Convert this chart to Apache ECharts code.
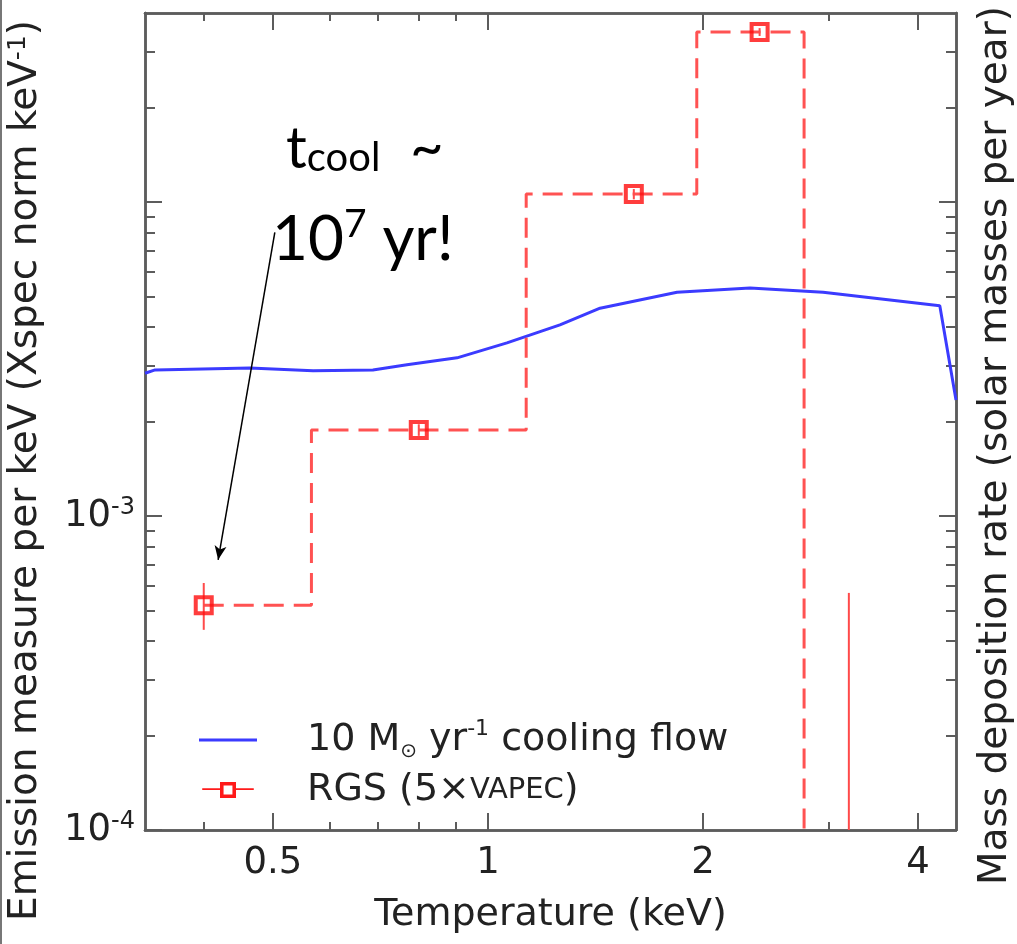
<!DOCTYPE html>
<html>
<head>
<meta charset="utf-8">
<script src="https://cdn.jsdelivr.net/npm/echarts@6/dist/echarts.min.js"></script>
<style>
  html, body {margin: 0; padding: 0; background: #fff; overflow: hidden;}
  #main {width: 1017px; height: 944px;}
</style>
</head>
<body>
<div id="main"></div>
<script>
// 10 Msun/yr cooling flow model: temperature (keV) and emission measure
let coolT = [0.331, 0.342, 0.464, 0.569, 0.690, 0.770, 0.905, 1.063, 1.261, 1.435, 1.839, 2.327, 2.945, 4.29, 4.52];
let coolEM = [2.85e-3, 2.92e-3, 2.96e-3, 2.90e-3, 2.92e-3, 3.03e-3, 3.19e-3, 3.56e-3, 4.06e-3, 4.59e-3, 5.16e-3, 5.32e-3, 5.16e-3, 4.67e-3, 2.34e-3];

// RGS (5 x VAPEC): bin centres, values, error bars and bin edges (last point is off the bottom)
let rgsT = [0.4, 0.8, 1.6, 2.4, 3.2];
let rgsEM = [5.2e-4, 1.88e-3, 1.06e-2, 3.48e-2, 5e-5];
let rgsLo = [4.34e-4, 1.80e-3, 1.02e-2, 3.38e-2, 2e-5];
let rgsHi = [6.12e-4, 1.96e-3, 1.10e-2, 3.58e-2, 5.69e-4];
let rgsEdges = [0.566, 1.131, 1.96, 2.77];

// ticks
let xMajor = [0.5, 1, 2, 4];
let xMinor = [0.4, 0.6, 0.7, 0.8, 0.9, 3];
let yLabels = [1e-4, 1e-3];
let yMajor = [1e-4, 1e-3, 1e-2];
let yMinor = [2e-4, 3e-4, 4e-4, 5e-4, 6e-4, 7e-4, 8e-4, 9e-4, 2e-3, 3e-3, 4e-3, 5e-3, 6e-3, 7e-3, 8e-3, 9e-3, 2e-2, 3e-2];

// annotation arrow, tail -> head
let arrowFrom = [0.503, 8.0e-3];
let arrowTo = [0.419, 7.25e-4];

let step = [[rgsT[0], rgsEM[0]]];
rgsEdges.forEach((e, i) => {
    step.push([e, rgsEM[i]]);
    step.push([e, rgsEM[i + 1]]);
});
step.push([rgsT[rgsT.length - 1], rgsEM[rgsEM.length - 1]]);

let gray = '#5c5c5c';
let txt = '#222';
let font = 'DejaVu Sans';
let handFont = '"Comic Sans MS", Lato, sans-serif';

function xAx(pos, ticks, len, withLabels) {
    return {
        type: 'log', position: pos, min: 0.331, max: 4.52,
        axisLine: {show: true, onZero: false, lineStyle: {color: gray, width: 2.5}},
        axisTick: {show: true, inside: true, length: len, customValues: ticks, lineStyle: {color: gray, width: 2}},
        axisLabel: withLabels ? {
            customValues: ticks, margin: 15, color: txt, fontFamily: font, fontSize: 37,
            formatter: v => String(v)
        } : {show: false},
        splitLine: {show: false}
    };
}

function yAx(pos, ticks, len, withLabels) {
    return {
        type: 'log', position: pos, min: 1e-4, max: 0.04,
        axisLine: {show: true, onZero: false, lineStyle: {color: gray, width: 2.5}},
        axisTick: {show: true, inside: true, length: len, customValues: ticks, lineStyle: {color: gray, width: 2}},
        axisLabel: withLabels ? {
            customValues: yLabels, margin: 10, color: txt, fontFamily: font, fontSize: 37, lineHeight: 40,
            formatter: v => '10{sup|' + Math.round(Math.log10(v)) + '}',
            rich: {sup: {fontFamily: font, fontSize: 24, lineHeight: 24, verticalAlign: 'top', color: txt}}
        } : {show: false},
        splitLine: {show: false}
    };
}

let xAxes = [xAx('bottom', xMajor, 17, true), xAx('bottom', xMinor, 8, false), xAx('top', xMajor, 17, false), xAx('top', xMinor, 8, false)];
xAxes[0].name = 'Temperature (keV)';
xAxes[0].nameLocation = 'middle';
xAxes[0].nameGap = 66;
xAxes[0].nameTextStyle = {color: txt, fontFamily: font, fontSize: 38};

let yAxes = [yAx('left', yMajor, 17, true), yAx('left', yMinor, 10, false), yAx('right', yMajor, 17, false), yAx('right', yMinor, 10, false)];
yAxes[0].name = 'Emission measure per keV (Xspec norm keV{sup|-1})';
yAxes[0].nameLocation = 'middle';
yAxes[0].nameGap = 100;
yAxes[0].nameTextStyle = {color: txt, fontFamily: font, fontSize: 39, padding: [0, 98, 0, 0],
    rich: {sup: {fontFamily: font, fontSize: 25, lineHeight: 25, verticalAlign: 'top', color: txt}}};
yAxes[2].name = 'Mass deposition rate (solar masses per year)';
yAxes[2].nameLocation = 'middle';
yAxes[2].nameGap = 20;
yAxes[2].nameTextStyle = {color: txt, fontFamily: font, fontSize: 39, padding: [0, 48, 0, 0]};

let legendNames = {
    cooling: '{g|}10 M{sub|\u2299} yr{sup|-1} cooling flow',
    rgs: '{g|}RGS (5\u00d7{sc|VAPEC})'
};

let chart = echarts.init(document.getElementById('main'));
chart.setOption({
    animation: false,
    backgroundColor: '#fff',
    grid: {left: 145, right: 61, top: 13, bottom: 114, containLabel: false, outerBoundsMode: 'none'},
    xAxis: xAxes,
    yAxis: yAxes,
    legend: {
        orient: 'vertical', left: 194, top: 713, itemWidth: 58, itemHeight: 16, itemGap: 6,
        selectedMode: false,
        itemStyle: {borderWidth: 0},
        data: [
            {name: 'cooling', icon: 'path://M0,6.5H58V9.5H0Z'},
            {name: 'rgs', icon: 'path://M0,7H20V9H0Z M38,7H58V9H38Z M20,0H38V18H20Z M24,4V14H34V4Z'}
        ],
        formatter: name => legendNames[name],
        textStyle: {
            color: txt, fontFamily: font, fontSize: 38, lineHeight: 44,
            rich: {
                g: {width: 45},
                sub: {fontFamily: font, fontSize: 20, lineHeight: 30, verticalAlign: 'bottom', color: txt},
                sup: {fontFamily: font, fontSize: 22, lineHeight: 22, verticalAlign: 'top', color: txt},
                sc: {fontFamily: font, fontSize: 29, lineHeight: 44, verticalAlign: 'middle', color: txt}
            }
        }
    },
    series: [
        {
            name: 'cooling', type: 'line', color: '#3b3bff',
            data: coolT.map((t, i) => [t, coolEM[i]]),
            showSymbol: false, lineStyle: {width: 3}, clip: true, z: 3
        },
        {
            name: 'rgs', type: 'line', color: '#ff1a1a',
            data: step, showSymbol: false, clip: true, z: 4,
            lineStyle: {width: 3, color: '#ff5252', type: [20, 10]}
        },
        {
            name: 'rgs errors', type: 'custom', z: 5,
            data: rgsT.map((t, i) => [t, rgsLo[i], rgsHi[i]]),
            renderItem: (params, api) => {
                let cs = params.coordSys;
                let lo = api.coord([api.value(0), api.value(1)]);
                let hi = api.coord([api.value(0), api.value(2)]);
                let bottom = cs.y + cs.height;
                return {
                    type: 'line',
                    shape: {x1: lo[0], y1: Math.min(lo[1], bottom), x2: hi[0], y2: Math.min(hi[1], bottom)},
                    style: {stroke: '#ff4a4a', lineWidth: 2}
                };
            }
        },
        {
            name: 'rgs points', type: 'scatter', z: 6, clip: true,
            data: rgsT.map((t, i) => [t, rgsEM[i]]),
            symbol: 'rect', symbolSize: 16,
            itemStyle: {color: 'rgba(255,255,255,0)', borderColor: '#ff0d0d', borderWidth: 4},
            markLine: {
                silent: true, symbol: ['none', 'arrow'], symbolSize: [9, 14],
                label: {show: false},
                lineStyle: {color: '#000', width: 1.5, type: 'solid'},
                data: [[{coord: arrowFrom}, {coord: arrowTo}]]
            }
        }
    ],
    graphic: [
        {type: 'line', shape: {x1: 1, y1: 0, x2: 1, y2: 944}, style: {stroke: '#777', lineWidth: 2}},
        {
            type: 'text', left: 286, top: 120,
            style: {
                text: '{t|t}{s|cool}{t|  ~}',
                rich: {
                    t: {fontFamily: handFont, fontSize: 58, lineHeight: 64, verticalAlign: 'bottom', fill: '#000'},
                    s: {fontFamily: handFont, fontSize: 40, lineHeight: 38, verticalAlign: 'bottom', fill: '#000'}
                }
            }
        },
        {
            type: 'text', left: 272, top: 205,
            style: {
                text: '{t|10}{p|7}{t| yr!}',
                rich: {
                    t: {fontFamily: handFont, fontSize: 62, lineHeight: 66, verticalAlign: 'bottom', fill: '#000'},
                    p: {fontFamily: handFont, fontSize: 39, lineHeight: 39, verticalAlign: 'top', fill: '#000'}
                }
            }
        }
    ]
});
</script>
</body>
</html>
